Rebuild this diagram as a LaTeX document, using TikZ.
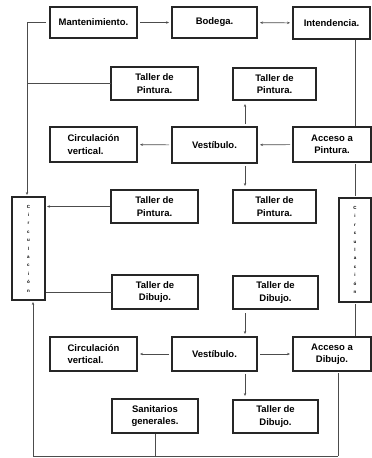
\documentclass[tikz,border=0pt]{standalone}
\usepackage{fontspec}
\setmainfont{Liberation Sans}
\usetikzlibrary{arrows.meta}
\begin{document}
\begin{tikzpicture}[x=1pt,y=-1pt,
  box/.style={draw=black!85, line width=1.1pt, inner sep=0pt, outer sep=0pt,
    font=\fontsize{9.5}{12.5}\selectfont\bfseries, align=center},
  vbox/.style={draw=black!85, line width=1.1pt, inner sep=0pt, outer sep=0pt,
    font=\fontsize{4.5}{8.4}\selectfont\bfseries, align=center},
  conn/.style={draw=black!70, line width=0.6pt},
  tip/.style={-{Stealth[length=3pt,width=2.4pt]}},
  gap/.style={shorten <=3pt, shorten >=3pt}
]
\useasboundingbox (0,0) rectangle (372,458);
% boxes
\node[box, minimum width=87pt, minimum height=31pt] (mant) at (93.5,22.5) {Mantenimiento.};
\node[box, minimum width=85pt, minimum height=31pt] (bod) at (214.5,22.5) {Bodega.};
\node[box, minimum width=77pt, minimum height=32pt] (int) at (331.5,23) {Intendencia.};
\node[box, minimum width=87pt, minimum height=33pt] (tp1) at (154.5,83.5) {Taller de\\Pintura.};
\node[box, minimum width=83pt, minimum height=32pt] (tp2) at (274.5,84) {Taller de\\Pintura.};
\node[box, minimum width=87pt, minimum height=35pt, align=left] (cv1) at (93.5,144.5) {Circulación\\vertical.};
\node[box, minimum width=85pt, minimum height=36pt] (ve1) at (214.5,145) {Vestíbulo.};
\node[box, minimum width=78pt, minimum height=35pt] (ap) at (332,144.5) {Acceso a\\Pintura.};
\node[box, minimum width=87pt, minimum height=33pt] (tp3) at (154.5,206.5) {Taller de\\Pintura.};
\node[box, minimum width=83pt, minimum height=33pt] (tp4) at (274.5,206.5) {Taller de\\Pintura.};
\node[vbox, minimum width=33pt, minimum height=103pt] (lc) at (28.5,248.5) {C\\i\\r\\c\\u\\l\\a\\c\\i\\ó\\n};
\node[vbox, minimum width=32pt, minimum height=104pt] (rc) at (355,250) {C\\i\\r\\c\\u\\l\\a\\c\\i\\ó\\n};
\node[box, minimum width=86pt, minimum height=34pt] (td1) at (155,292) {Taller de\\Dibujo.};
\node[box, minimum width=85pt, minimum height=33pt] (td2) at (275.5,292.5) {Taller de\\Dibujo.};
\node[box, minimum width=87pt, minimum height=34pt, align=left] (cv2) at (93.5,354) {Circulación\\vertical.};
\node[box, minimum width=85pt, minimum height=34pt] (ve2) at (214.5,354) {Vestíbulo.};
\node[box, minimum width=78pt, minimum height=34pt] (ad) at (332,354) {Acceso a\\Dibujo.};
\node[box, minimum width=86pt, minimum height=34pt] (san) at (155,416) {Sanitarios\\generales.};
\node[box, minimum width=85pt, minimum height=33pt] (td3) at (275.5,416.5) {Taller de\\Dibujo.};
% helper coordinates
\coordinate (xl) at (27,0);
\coordinate (xb) at (33,0);
\coordinate (xv) at (245,0);
\coordinate (xr) at (355,0);
\coordinate (xa) at (338,0);
\coordinate (yb) at (0,456);
% top row
\draw[conn,tip,gap] (mant) -- (bod);
\draw[conn,{Stealth[length=3pt,width=2.4pt]}-{Stealth[length=3pt,width=2.4pt]},gap] (bod) -- (int);
% left circulation
\draw[conn,tip,shorten <=4pt,shorten >=2pt] (mant.west) -| (lc.north -| xl);
\draw[conn] (tp1.west) -- (tp1.west -| xl);
\draw[conn,tip,shorten <=1pt,shorten >=2pt] (tp3.west) -- (tp3.west -| lc.east);
\draw[conn,shorten >=1pt] (td1.west) -- (td1.west -| lc.east);
\draw[conn,{Stealth[length=3pt,width=2.4pt]}-,shorten <=2pt] (lc.south -| xb) -- (yb -| xb);
% bottom line
\draw[conn] (yb -| xb) -- (yb -| xa);
\draw[conn,shorten <=1pt] (san.south) -- (yb -| san.south);
\draw[conn,shorten <=2pt] (ad.south -| xa) -- (yb -| xa);
% right circulation
\draw[conn,shorten <=1pt,shorten >=1pt] (int.south -| xr) -- (ap.north -| xr);
\draw[conn,shorten <=2pt,shorten >=2pt] (ap.south -| xr) -- (rc.north);
\draw[conn,shorten <=2pt,shorten >=1pt] (rc.south) -- (ad.north -| xr);
% pintura block
\draw[conn,tip,gap] (ap) -- (ve1);
\draw[conn,tip,gap] (ve1) -- (cv1);
\draw[conn,tip,shorten <=3pt,shorten >=4pt] (ve1.north -| xv) -- (tp2.south -| xv);
\draw[conn,tip,shorten <=3pt,shorten >=4pt] (ve1.south -| xv) -- (tp4.north -| xv);
% dibujo block
\draw[conn,tip,shorten <=4pt,shorten >=3pt] (td2.south -| xv) -- (ve2.north -| xv);
\draw[conn,tip,shorten <=3pt,shorten >=4pt] (ve2.south -| xv) -- (td3.north -| xv);
\draw[conn,tip,gap] (ve2) -- (cv2);
\draw[conn,tip,gap] (ve2) -- (ad);
\end{tikzpicture}
\end{document}
